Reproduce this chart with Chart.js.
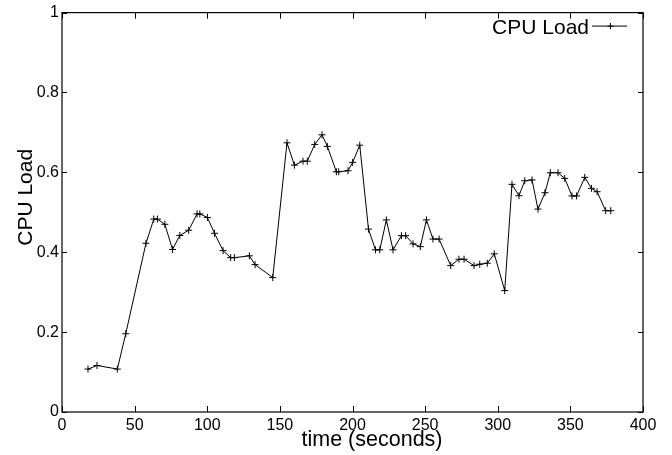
<!DOCTYPE html>
<html>
<head>
<meta charset="utf-8">
<script src="https://cdn.jsdelivr.net/npm/chart.js@4.4.1/dist/chart.umd.min.js"></script>
<style>
  html, body { margin: 0; padding: 0; background: #fff; }
  #wrap { width: 672px; height: 455px; }
</style>
</head>
<body>
<div id="wrap"><canvas id="c" width="672" height="455"></canvas></div>
<script>
// Sample times (seconds)
const times = [
  17.9, 24.1, 38.1, 43.9, 57.8, 63.2, 65.7, 70.8, 76.1, 81.1,
  87.2, 93.0, 94.9, 100.1, 105.0, 110.9, 116.1, 118.7, 129.0, 132.9,
  145.1, 154.9, 160.0, 165.9, 168.9, 174.0, 179.0, 182.7, 188.9, 190.5,
  196.9, 200.1, 205.0, 211.0, 215.8, 218.8, 223.3, 227.9, 233.7, 236.6,
  241.7, 246.7, 250.9, 255.4, 259.6, 267.6, 273.3, 276.8, 283.7, 287.6,
  292.8, 297.6, 304.8, 309.8, 314.6, 318.6, 323.6, 327.7, 332.5, 336.2,
  341.5, 346.1, 351.1, 354.3, 359.9, 364.5, 368.4, 374.3, 377.8
];
// CPU load values
const cpuLoad = [
  0.1075, 0.1165, 0.1075, 0.196, 0.4225, 0.483, 0.483, 0.470, 0.407, 0.442,
  0.455, 0.496, 0.496, 0.487, 0.4475, 0.404, 0.3865, 0.3865, 0.391, 0.369,
  0.3365, 0.674, 0.618, 0.628, 0.628, 0.670, 0.694, 0.665, 0.6015, 0.6015,
  0.604, 0.625, 0.668, 0.458, 0.406, 0.406, 0.481, 0.406, 0.4415, 0.4415,
  0.421, 0.414, 0.481, 0.433, 0.433, 0.3665, 0.3825, 0.3825, 0.3665, 0.370,
  0.3725, 0.396, 0.304, 0.570, 0.5415, 0.579, 0.581, 0.508, 0.549, 0.599,
  0.599, 0.585, 0.541, 0.541, 0.5875, 0.560, 0.5515, 0.504, 0.504
];
const seriesName = 'CPU Load';
const xTitle = 'time (seconds)';
const yTitle = 'CPU Load';
const xTicks = [0, 50, 100, 150, 200, 250, 300, 350, 400];
const yTicks = [0, 0.2, 0.4, 0.6, 0.8, 1];

const FONT = "'Liberation Sans', Arial, Helvetica, sans-serif";

const points = times.map((t, i) => ({ x: t, y: cpuLoad[i] }));

// Gnuplot-like frame: border box, inward ticks on all four sides, axis labels, in-plot key
const gnuplotFrame = {
  id: 'gnuplotFrame',
  afterDraw(chart) {
    const ctx = chart.ctx;
    const { left, right, top, bottom } = chart.chartArea;
    const xs = chart.scales.x, ys = chart.scales.y;
    ctx.save();
    ctx.strokeStyle = '#000';
    ctx.lineWidth = 1.2;
    ctx.strokeRect(left, top, right - left, bottom - top);
    ctx.lineWidth = 1;
    ctx.beginPath();
    xs.ticks.forEach(t => {
      const px = Math.round(xs.getPixelForValue(t.value)) + 0.5;
      ctx.moveTo(px, bottom); ctx.lineTo(px, bottom - 6);
      ctx.moveTo(px, top); ctx.lineTo(px, top + 6);
    });
    ys.ticks.forEach(t => {
      const py = Math.round(ys.getPixelForValue(t.value)) + 0.5;
      ctx.moveTo(left, py); ctx.lineTo(left + 5, py);
      ctx.moveTo(right, py); ctx.lineTo(right - 5, py);
    });
    ctx.stroke();

    ctx.fillStyle = '#000';
    // axis labels (gnuplot places them slightly off-centre)
    ctx.font = '21.5px ' + FONT;
    ctx.textAlign = 'center';
    ctx.textBaseline = 'middle';
    ctx.fillText(xTitle, xs.getPixelForValue(200) + 19.5, 440);
    ctx.save();
    ctx.translate(25, ys.getPixelForValue(0.5) - 15);
    ctx.rotate(-Math.PI / 2);
    ctx.font = '21px ' + FONT;
    ctx.fillText(yTitle, 0, 1);
    ctx.restore();

    // key (legend) at top right inside the plot
    const ds = chart.data.datasets[0];
    const sampleRight = right - 16;
    const sampleLeft = sampleRight - 35;
    const ky = top + 13;
    ctx.beginPath();
    ctx.moveTo(sampleLeft, ky + 0.5); ctx.lineTo(sampleRight, ky + 0.5);
    const cx = Math.round((sampleLeft + sampleRight) / 2) + 0.5;
    ctx.moveTo(cx - 3, ky + 0.5); ctx.lineTo(cx + 3, ky + 0.5);
    ctx.moveTo(cx, ky - 2.5); ctx.lineTo(cx, ky + 3.5);
    ctx.stroke();
    ctx.font = '21px ' + FONT;
    ctx.textAlign = 'right';
    ctx.textBaseline = 'middle';
    ctx.fillText(ds.label, sampleLeft - 3, ky + 3);
    ctx.restore();
  }
};

new Chart(document.getElementById('c'), {
  type: 'line',
  data: {
    datasets: [{
      label: seriesName,
      data: points,
      borderColor: '#000',
      backgroundColor: '#000',
      borderWidth: 1,
      pointStyle: 'cross',
      pointRadius: 3.5,
      pointBorderWidth: 1,
      pointBorderColor: '#000',
      pointHoverRadius: 3.5,
      tension: 0,
      fill: false
    }]
  },
  options: {
    responsive: false,
    animation: false,
    events: [],
    layout: { padding: { top: 12, right: 29, left: 0, bottom: 0 } },
    plugins: {
      legend: { display: false },
      tooltip: { enabled: false }
    },
    scales: {
      x: {
        type: 'linear',
        min: 0, max: 400,
        afterBuildTicks: (s) => { s.ticks = xTicks.map(v => ({ value: v })); },
        afterFit: (s) => { s.height = 43; },
        grid: { display: false, drawTicks: false },
        border: { display: false },
        ticks: { color: '#000', padding: 4, maxRotation: 0, font: { family: FONT, size: 16 } },
        title: { display: false, text: xTitle }
      },
      y: {
        type: 'linear',
        min: 0, max: 1,
        afterBuildTicks: (s) => { s.ticks = yTicks.map(v => ({ value: v })); },
        afterFit: (s) => { s.width = 62; },
        grid: { display: false, drawTicks: false },
        border: { display: false },
        ticks: {
          color: '#000', padding: 3, font: { family: FONT, size: 16 },
          callback: (v) => String(Math.round(v * 10) / 10)
        },
        title: { display: false, text: yTitle }
      }
    }
  },
  plugins: [gnuplotFrame]
});
</script>
</body>
</html>
